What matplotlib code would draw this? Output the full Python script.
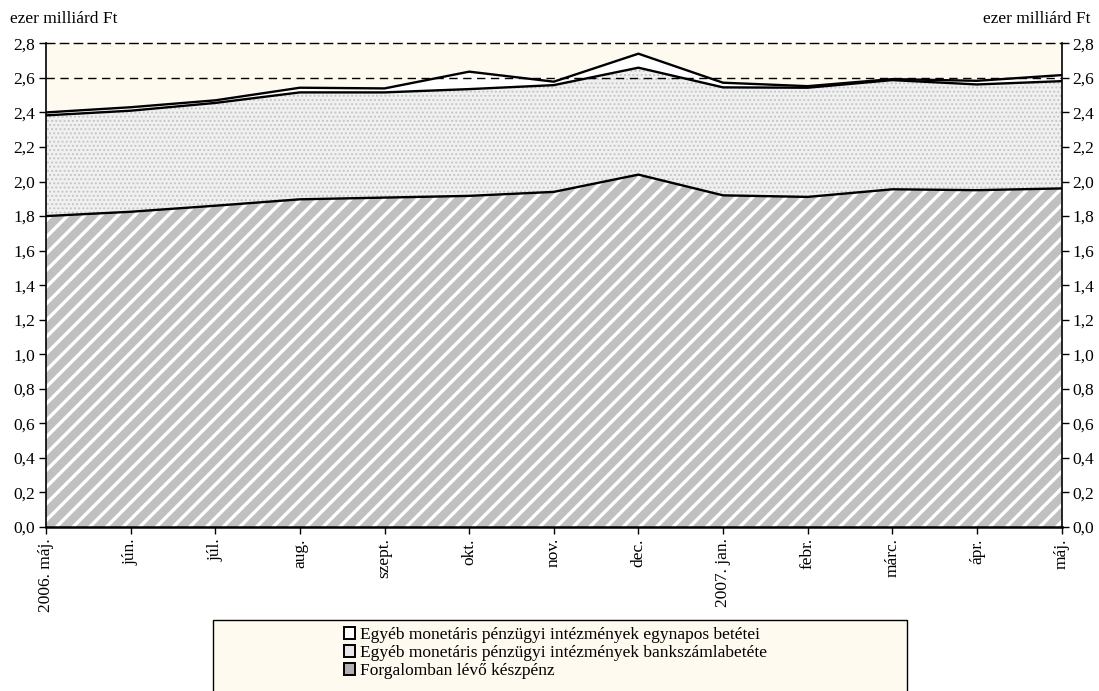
import matplotlib
matplotlib.use("Agg")
import matplotlib.pyplot as plt
from matplotlib.patches import Patch, Rectangle
import numpy as np

honapok = ["2006. máj.", "jún.", "júl.", "aug.", "szept.", "okt.", "nov.", "dec.",
           "2007. jan.", "febr.", "márc.", "ápr.", "máj."]
# Forgalomban lévő készpénz
keszpenz = [1.80, 1.825, 1.86, 1.897, 1.907, 1.917, 1.94, 2.04, 1.92, 1.911, 1.955, 1.95, 1.96]
# Egyéb MPI bankszámlabetéte
bankszamla = [0.583, 0.585, 0.595, 0.619, 0.609, 0.618, 0.618, 0.619, 0.625, 0.632, 0.632, 0.612, 0.621]
# Egyéb MPI egynapos betétei
egynapos = [0.017, 0.02, 0.015, 0.027, 0.023, 0.101, 0.02, 0.081, 0.027, 0.009, 0.006, 0.021, 0.035]

plt.rcParams["font.family"] = ["Liberation Serif", "DejaVu Serif"]
plt.rcParams["hatch.linewidth"] = 2.4

x = np.arange(len(honapok))
also = np.array(keszpenz)
kozep = also + np.array(bankszamla)
felso = kozep + np.array(egynapos)

fig = plt.figure(figsize=(10.99, 6.91), dpi=100)
ax = fig.add_axes([0.0419, 0.2373, 0.9240, 0.7000])
ax.set_facecolor("#fffaf0")

ax.fill_between(x, 0, also, facecolor="#c0c0c0", edgecolor="white", hatch="//", linewidth=0)
plt.rcParams["hatch.linewidth"] = 0.9
ax.fill_between(x, also, kozep, facecolor="#f0f0f0", edgecolor="#c4c4c4", hatch="....", linewidth=0)
ax.fill_between(x, kozep, felso, facecolor="white", linewidth=0)
for vonal in (also, kozep, felso):
    ax.plot(x, vonal, color="black", linewidth=1.7)

ax.axhline(2.6, color="black", linestyle=(0, (6, 4)), linewidth=1)

ax.set_xlim(0, len(honapok) - 1)
ax.set_ylim(0, 2.8)
yt = np.arange(0, 2.81, 0.2)
ax.set_yticks(yt)
ax.set_yticklabels([f"{v:.1f}".replace(".", ",") for v in yt], fontsize=12.5)
ax.set_xticks(x)
ax.set_xticklabels(honapok, rotation=90, fontsize=12.5)
ax.tick_params(axis="y", which="both", direction="out", length=5, width=1,
               left=True, right=True, labelleft=True, labelright=True, pad=3)
ax.tick_params(axis="x", direction="out", length=5, width=1, pad=3)

for s in ("left", "right", "bottom"):
    ax.spines[s].set_linewidth(1.2)
ax.spines["bottom"].set_linewidth(1.8)
ax.spines["top"].set_linestyle((0, (6, 4)))
ax.spines["top"].set_linewidth(1)

fig.text(0.009, 0.972, "ezer milliárd Ft", fontsize=12.5, ha="left", va="center")
fig.text(0.992, 0.972, "ezer milliárd Ft", fontsize=12.5, ha="right", va="center")

doboz = Rectangle((213 / 1099, -0.01), (907 - 213) / 1099, (691 - 620) / 691 + 0.01,
                  transform=fig.transFigure, facecolor="#fffaf0", edgecolor="black",
                  linewidth=1, zorder=0)
fig.patches.append(doboz)

kezelok = [
    Patch(facecolor="white", edgecolor="black", linewidth=1.4,
          label="Egyéb monetáris pénzügyi intézmények egynapos betétei"),
    Patch(facecolor="#e8e8e8", edgecolor="black", linewidth=1.4,
          label="Egyéb monetáris pénzügyi intézmények bankszámlabetéte"),
    Patch(facecolor="#b0b0b0", edgecolor="black", linewidth=1.4,
          label="Forgalomban lévő készpénz"),
]
fig.legend(handles=kezelok, loc="upper left", bbox_to_anchor=(344 / 1099, 1 - 627 / 691),
           frameon=False, fontsize=12.5, handlelength=0.65, handleheight=0.65,
           handletextpad=0.25, labelspacing=0.12, borderpad=0, borderaxespad=0)

fig.savefig("out.png", dpi=100)
